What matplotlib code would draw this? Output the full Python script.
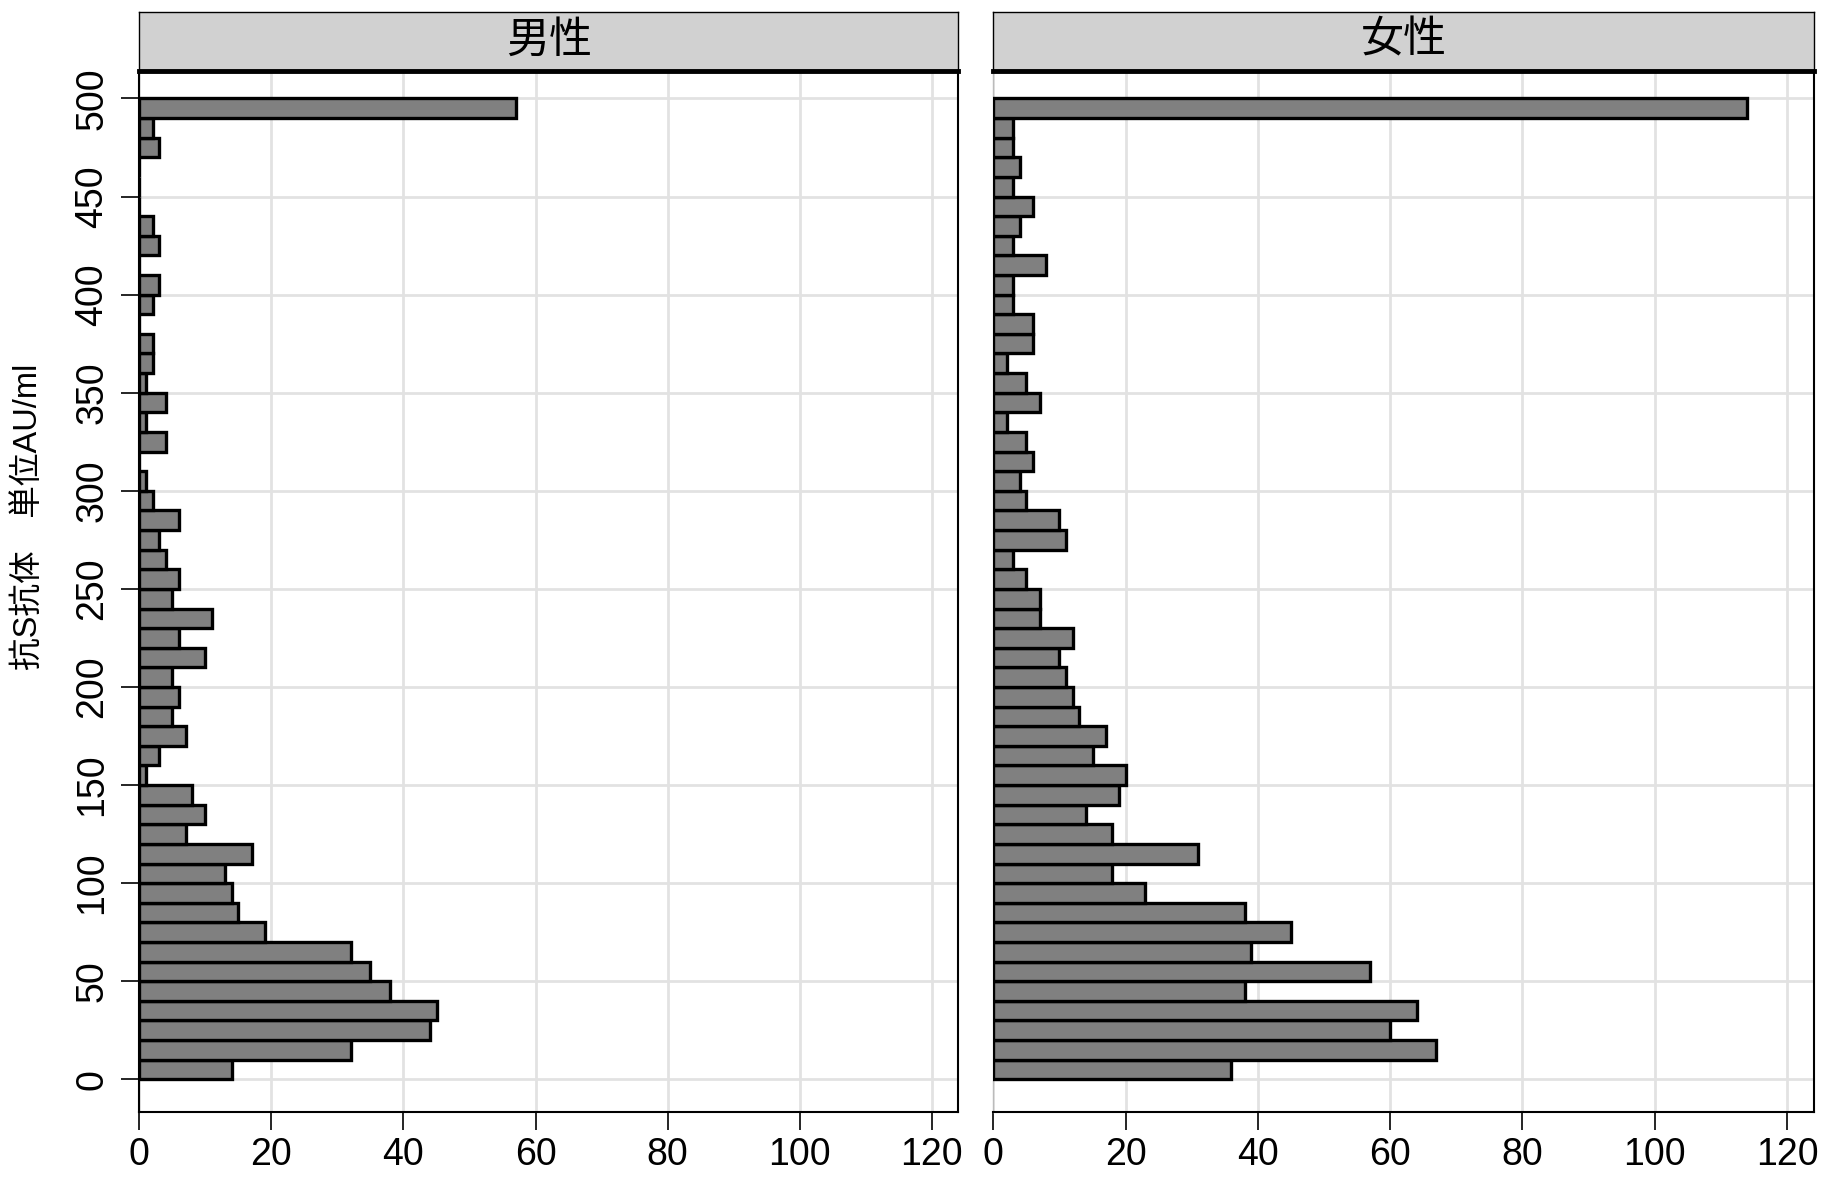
import matplotlib
matplotlib.use("Agg")
import matplotlib.pyplot as plt
import numpy as np

plt.rcParams["font.family"] = ["Liberation Sans", "Noto Sans CJK JP"]

# histogram bins of 10 AU/ml, left edges 0..490
bin_edges = np.arange(0, 500, 10)
male_counts = [14, 32, 44, 45, 38, 35, 32, 19, 15, 14,
               13, 17, 7, 10, 8, 1, 3, 7, 5, 6,
               5, 10, 6, 11, 5, 6, 4, 3, 6, 2,
               1, 0, 4, 1, 4, 1, 2, 2, 0, 2,
               3, 0, 3, 2, 0, 0, 0, 3, 2, 57]
female_counts = [36, 67, 60, 64, 38, 57, 39, 45, 38, 23,
                 18, 31, 18, 14, 19, 20, 15, 17, 13, 12,
                 11, 10, 12, 7, 7, 5, 3, 11, 10, 5,
                 4, 6, 5, 2, 7, 5, 2, 6, 6, 3,
                 3, 8, 3, 4, 6, 3, 4, 3, 3, 114]
panel_titles = ["男性", "女性"]
y_ticks = np.arange(0, 501, 50)
x_ticks = np.arange(0, 121, 20)
y_label = "抗S抗体　単位AU/ml"

W, H = 1831, 1179
fig = plt.figure(figsize=(W / 100, H / 100), dpi=100)

panels = [(139.3, 958.3, male_counts), (993.3, 1813.5, female_counts)]
plot_top, plot_bottom = 71, 1111.7
strip_top = 11.7

for i, (x0, x1, counts) in enumerate(panels):
    ax = fig.add_axes([x0 / W, (H - plot_bottom) / H,
                       (x1 - x0) / W, (plot_bottom - plot_top) / H])
    ax.barh(bin_edges, counts, height=10, align="edge",
            color="#808080", edgecolor="black", linewidth=2.4, zorder=3)
    ax.set_xlim(0, 124)
    ax.set_ylim(-16.5, 514)
    ax.set_xticks(x_ticks)
    ax.set_yticks(y_ticks)
    ax.grid(True, color="#e2e2e2", linewidth=2, zorder=0)
    ax.set_axisbelow(True)
    ax.tick_params(axis="x", length=13, width=1.2, labelsize=27, pad=5)
    ax.tick_params(axis="y", length=13, width=1.2, labelsize=27, pad=8,
                   labelrotation=90)
    for lab in ax.get_yticklabels():
        lab.set_va("center")
    ax.spines["top"].set_visible(False)
    ax.spines["bottom"].set_linewidth(1.5)
    ax.spines["right"].set_linewidth(1.5)
    if i == 0:
        ax.spines["left"].set_linewidth(1.5)
    else:
        ax.spines["left"].set_color("#bbbbbb")
        ax.spines["left"].set_linewidth(1)
        ax.tick_params(axis="y", left=False, labelleft=False)

    # facet strip
    sx = fig.add_axes([x0 / W, (H - plot_top) / H,
                       (x1 - x0) / W, (plot_top - strip_top) / H])
    sx.set_facecolor("#d1d1d1")
    sx.set_xticks([])
    sx.set_yticks([])
    for side in ["top", "left", "right"]:
        sx.spines[side].set_linewidth(1)
    sx.spines["bottom"].set_linewidth(3.5)
    sx.text(0.5, 0.5, panel_titles[i], ha="center", va="center",
            fontsize=31, transform=sx.transAxes)

fig.text(28 / W, (H - 517) / H, y_label, rotation=90, ha="center",
         va="center", fontsize=23.5)

fig.savefig("out.png", dpi=100)
plt.close(fig)
